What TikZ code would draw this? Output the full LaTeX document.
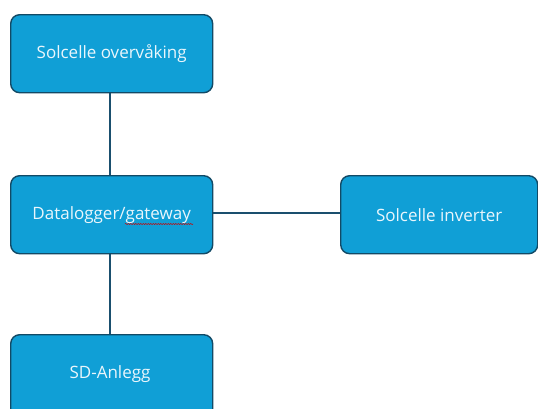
\documentclass[tikz,border=0pt]{standalone}
\usepackage{fontspec}
\setmainfont{Open Sans}
\usetikzlibrary{decorations.pathmorphing}
\definecolor{boxfill}{HTML}{109FD6}
\definecolor{boxedge}{HTML}{124A66}
\definecolor{linkcol}{HTML}{1A4F6E}
\definecolor{boxtext}{HTML}{EAF6FC}
\tikzset{
  unit/.style={draw=boxedge, line width=1.4pt, fill=boxfill, rounded corners=9pt,
    text=boxtext, font=\fontsize{17}{20}\selectfont, inner sep=0pt, anchor=north west},
  link/.style={draw=linkcol, line width=1.3pt}
}
\begin{document}
\begin{tikzpicture}[x=1pt, y=-1pt]
  \clip (0,0) rectangle (538,408);
  \useasboundingbox (0,0) rectangle (538,408);
  \fill[white] (0,0) rectangle (538,408);
  % connectors behind the boxes
  \coordinate (tc) at (110,53);
  \coordinate (mc) at (110,213);
  \coordinate (rc) at (438,213);
  \coordinate (bc) at (110,372);
  \draw[link] (tc) -- (mc) -- (bc);
  \draw[link] (mc) -- (rc);
  % boxes
  \node[unit, minimum width=202pt, minimum height=78pt] (top) at (10,14) {Solcelle overvåking};
  \node[unit, minimum width=202pt, minimum height=78pt] (mid) at (10,175) {Datalogger/gateway};
  \node[unit, minimum width=197pt, minimum height=78pt] (inv) at (340,175) {Solcelle inverter};
  \node[unit, minimum width=202pt, minimum height=90pt] (sd) at (10,334) {};
  \node[text=boxtext, font=\fontsize{17}{20}\selectfont] (sdlabel) at (110,374) {SD-Anlegg};
  % spell-check squiggle under "gateway"
  \coordinate (sqa) at (125,224);
  \coordinate (sqb) at (193,224);
  \draw[red!80!black, line width=0.5pt, decorate,
        decoration={snake, amplitude=0.6pt, segment length=2.5pt}] (sqa) -- (sqb);
\end{tikzpicture}
\end{document}
